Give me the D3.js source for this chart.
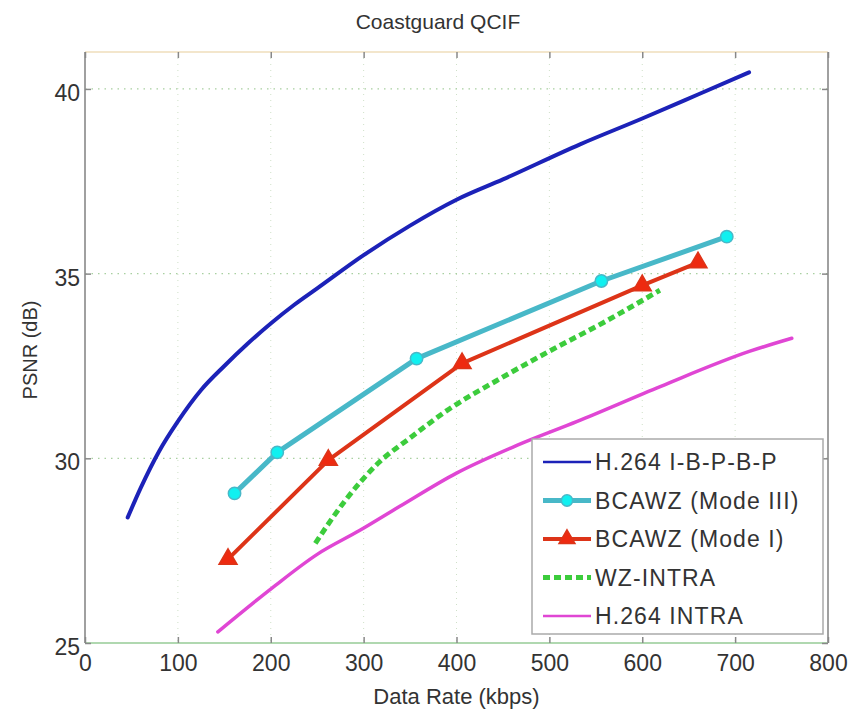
<!DOCTYPE html>
<html>
<head>
<meta charset="utf-8">
<script src="https://cdn.jsdelivr.net/npm/d3@7"></script>
<style>
  body { margin: 0; background: #fff; }
  svg { font-family: "Liberation Sans", Arial, sans-serif; }
</style>
</head>
<body>
<div id="chart"></div>
<script>
// data (kbps, dB)
var xTicks = [0, 100, 200, 300, 400, 500, 600, 700, 800];
var yTicks = [25, 30, 35, 40];

var h264IBP = [[46,28.4],[60,29.2],[80,30.2],[100,31.0],[125,31.85],[150,32.5],[175,33.1],[200,33.65],[225,34.15],[250,34.6],[300,35.5],[350,36.3],[400,37.0],[450,37.55],[533,38.5],[600,39.2],[660,39.85],[715,40.45]];
var bcawzMode3 = [[161,29.05],[207,30.16],[357,32.7],[556,34.8],[691,36.0]];
var bcawzMode1 = [[154,27.27],[262,29.95],[406,32.57],[600,34.68],[660,35.3]];
var wzIntra = [[248,27.7],[280,28.85],[317,29.9],[350,30.55],[393,31.35],[443,32.1],[500,32.9],[560,33.7],[619,34.55]];
var h264Intra = [[143,25.3],[202,26.5],[250,27.4],[296,28.05],[339,28.7],[400,29.6],[465,30.35],[530,31.0],[620,31.95],[716,32.9],[761,33.25]];

var seriesNames = ["H.264 I-B-P-B-P", "BCAWZ (Mode III)", "BCAWZ (Mode I)", "WZ-INTRA", "H.264 INTRA"];

var series = [
  {name: seriesNames[0], data: h264IBP, color: "#1c22b8", width: 4, lw: 2.5},
  {name: seriesNames[1], data: bcawzMode3, color: "#48b8c8", width: 5, lw: 5, marker: "circle", mcolor: "#10f0f0"},
  {name: seriesNames[2], data: bcawzMode1, color: "#dd3418", width: 4, lw: 4, marker: "triangle", mcolor: "#ee2a10"},
  {name: seriesNames[3], data: wzIntra, color: "#3ccc3c", width: 5, lw: 5, dash: "7,4"},
  {name: seriesNames[4], data: h264Intra, color: "#e046d4", width: 3.5, lw: 2.5}
];

var width = 863, height = 715;
var margin = {left: 85, right: 35, top: 52, bottom: 72};

var svg = d3.select("#chart").append("svg")
    .attr("width", width)
    .attr("height", height);

var x = d3.scaleLinear().domain([0, 800]).range([margin.left, width - margin.right]);
var y = d3.scaleLinear().domain([25, 41]).range([height - margin.bottom, margin.top]);

// grid
var grid = svg.append("g").attr("id", "grid");
grid.selectAll("line.v")
    .data(xTicks.slice(1, -1))
    .enter().append("line")
    .attr("x1", function(d) {return x(d);})
    .attr("x2", function(d) {return x(d);})
    .attr("y1", y(41))
    .attr("y2", y(25))
    .attr("stroke", "#cfe0c8")
    .attr("stroke-width", 1)
    .attr("stroke-dasharray", "1,5");
grid.selectAll("line.h")
    .data(yTicks.slice(1))
    .enter().append("line")
    .attr("x1", x(0))
    .attr("x2", x(800))
    .attr("y1", function(d) {return y(d);})
    .attr("y2", function(d) {return y(d);})
    .attr("stroke", "#a8d0a0")
    .attr("stroke-width", 1.2)
    .attr("stroke-dasharray", "1.5,5");

// box
svg.append("line").attr("x1", x(0)).attr("x2", x(800)).attr("y1", y(41)).attr("y2", y(41))
    .attr("stroke", "#f3e6cc").attr("stroke-width", 2);
svg.append("line").attr("x1", x(0)).attr("x2", x(800)).attr("y1", y(25)).attr("y2", y(25))
    .attr("stroke", "#b0d8b0").attr("stroke-width", 2);
svg.append("line").attr("x1", x(0)).attr("x2", x(0)).attr("y1", y(41)).attr("y2", y(25))
    .attr("stroke", "#a0a0a0").attr("stroke-width", 2);
svg.append("line").attr("x1", x(800)).attr("x2", x(800)).attr("y1", y(41)).attr("y2", y(25))
    .attr("stroke", "#a0a0a0").attr("stroke-width", 2);

// axes (inward ticks, mirrored)
var xAxis = svg.append("g")
    .attr("transform", "translate(0," + y(25) + ")")
    .call(d3.axisBottom(x).tickValues(xTicks).tickSizeInner(-6).tickSizeOuter(0).tickPadding(10));
var xAxisTop = svg.append("g")
    .attr("transform", "translate(0," + y(41) + ")")
    .call(d3.axisTop(x).tickValues(xTicks).tickSizeInner(-6).tickSizeOuter(0).tickFormat(""));
var yAxis = svg.append("g")
    .attr("transform", "translate(" + x(0) + ",0)")
    .call(d3.axisLeft(y).tickValues(yTicks).tickSizeInner(-6).tickSizeOuter(0).tickPadding(5));
var yAxisRight = svg.append("g")
    .attr("transform", "translate(" + x(800) + ",0)")
    .call(d3.axisRight(y).tickValues(yTicks).tickSizeInner(-6).tickSizeOuter(0).tickFormat(""));

[xAxis, xAxisTop, yAxis, yAxisRight].forEach(function(a) {
  a.select(".domain").remove();
  a.selectAll(".tick line").attr("stroke", "#888").attr("stroke-width", 1.5);
  a.selectAll("text")
      .attr("font-size", 23)
      .attr("fill", "#333")
      .attr("font-family", "Liberation Sans, Arial, sans-serif");
});
xAxis.selectAll("text").attr("dy", "0.8em");
yAxis.selectAll("text").attr("dy", "0.5em");

// lines
var smooth = d3.line()
    .x(function(d) {return x(d[0]);})
    .y(function(d) {return y(d[1]);})
    .curve(d3.curveMonotoneX);
var straight = d3.line()
    .x(function(d) {return x(d[0]);})
    .y(function(d) {return y(d[1]);});

var plot = svg.append("g").attr("id", "lines");
series.forEach(function(s) {
  plot.append("path")
      .datum(s.data)
      .attr("d", s.marker ? straight : smooth)
      .attr("fill", "none")
      .attr("stroke", s.color)
      .attr("stroke-width", s.width)
      .attr("stroke-linecap", s.dash ? "butt" : "round")
      .attr("stroke-linejoin", "round")
      .attr("stroke-dasharray", s.dash || null);
  if (s.marker) {
    var sym = d3.symbol()
        .type(s.marker == "circle" ? d3.symbolCircle : d3.symbolTriangle)
        .size(s.marker == "circle" ? 120 : 140);
    plot.append("g").selectAll("path")
        .data(s.data)
        .enter().append("path")
        .attr("transform", function(d) {return "translate(" + x(d[0]) + "," + y(d[1]) + ")";})
        .attr("d", sym)
        .attr("fill", s.mcolor)
        .attr("stroke", s.color)
        .attr("stroke-width", 1.5);
  }
});

// title and labels
svg.append("text")
    .attr("x", 438)
    .attr("y", 29)
    .attr("text-anchor", "middle")
    .attr("font-size", 21)
    .attr("fill", "#333")
    .text("Coastguard QCIF");

svg.append("text")
    .attr("x", (x(0) + x(800)) / 2)
    .attr("y", 704)
    .attr("text-anchor", "middle")
    .attr("font-size", 22)
    .attr("fill", "#333")
    .text("Data Rate (kbps)");

svg.append("text")
    .attr("transform", "translate(37,350) rotate(-90)")
    .attr("text-anchor", "middle")
    .attr("font-size", 20)
    .attr("fill", "#333")
    .text("PSNR (dB)");

// legend
var legend = svg.append("g").attr("id", "legend").attr("transform", "translate(532,439)");
legend.append("rect")
    .attr("width", 291)
    .attr("height", 195)
    .attr("fill", "#fff")
    .attr("stroke", "#aaa")
    .attr("stroke-width", 1.5);

var items = legend.selectAll("g.item")
    .data(series)
    .enter().append("g")
    .attr("class", "item")
    .attr("transform", function(d, i) {return "translate(0," + (23 + i * 38.5) + ")";});

items.append("line")
    .attr("x1", 11).attr("x2", 59)
    .attr("y1", 0).attr("y2", 0)
    .attr("stroke", function(d) {return d.color;})
    .attr("stroke-width", function(d) {return d.lw;})
    .attr("stroke-dasharray", function(d) {return d.dash || null;});

items.filter(function(d) {return d.marker;})
    .append("path")
    .attr("transform", "translate(35,0)")
    .attr("d", function(d) {
      return d3.symbol().type(d.marker == "circle" ? d3.symbolCircle : d3.symbolTriangle)
          .size(d.marker == "circle" ? 100 : 110)();
    })
    .attr("fill", function(d) {return d.mcolor;})
    .attr("stroke", function(d) {return d.color;})
    .attr("stroke-width", 1.5);

items.append("text")
    .attr("x", 63)
    .attr("y", 0)
    .attr("dy", "0.36em")
    .attr("font-size", 23)
    .attr("letter-spacing", 1.1)
    .attr("fill", "#333")
    .text(function(d) {return d.name;});
</script>
</body>
</html>
